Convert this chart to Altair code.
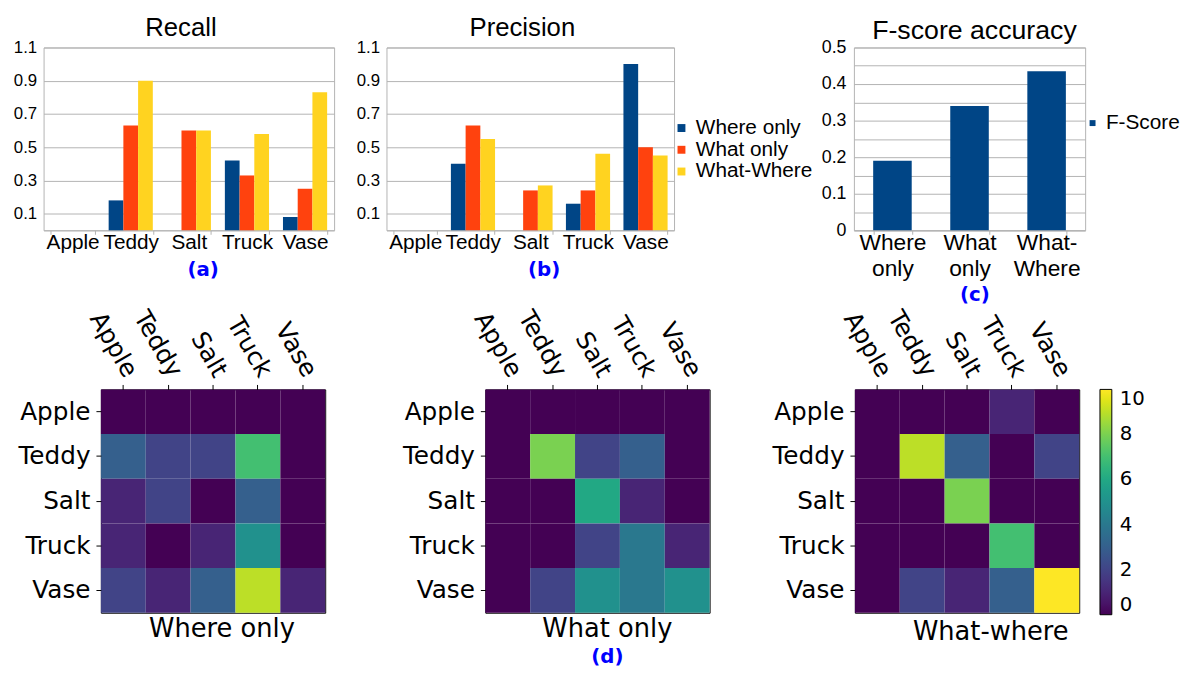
import altair as alt
import pandas as pd

# ---------------- data ----------------
categories = ["Apple", "Teddy", "Salt", "Truck", "Vase"]
methods = ["Where only", "What only", "What-Where"]

recall_where = [0.0, 0.18, 0.0, 0.42, 0.08]
recall_what = [0.0, 0.63, 0.60, 0.33, 0.25]
recall_whatwhere = [0.0, 0.90, 0.60, 0.58, 0.83]

precision_where = [0.0, 0.40, 0.0, 0.16, 1.00]
precision_what = [0.0, 0.63, 0.24, 0.24, 0.50]
precision_whatwhere = [0.0, 0.55, 0.27, 0.46, 0.45]

fscore_methods = ["Where only", "What only", "What-Where"]
fscore_values = [0.19, 0.34, 0.435]

bar_ticks = [0.1, 0.3, 0.5, 0.7, 0.9, 1.1]
fscore_ticks = [0, 0.05, 0.1, 0.15, 0.2, 0.25, 0.3, 0.35, 0.4, 0.45, 0.5]
colorbar_ticks = [0, 2, 4, 6, 8, 10]

conf_where = [
    [0, 0, 0, 0, 0],
    [3, 2, 2, 7, 0],
    [1, 2, 0, 3, 0],
    [1, 0, 1, 5, 0],
    [2, 1, 3, 9, 1],
]
conf_what = [
    [0, 0, 0, 0, 0],
    [0, 8, 2, 3, 0],
    [0, 0, 6, 1, 0],
    [0, 0, 2, 4, 1],
    [0, 2, 5, 4, 5],
]
conf_whatwhere = [
    [0, 0, 0, 1, 0],
    [0, 9, 3, 0, 2],
    [0, 0, 8, 0, 0],
    [0, 0, 0, 7, 0],
    [0, 2, 1, 3, 10],
]

bar_colors = ["#004586", "#ff420e", "#ffd320"]

GRID = "#b3b3b3"
BAR_FONT = "Liberation Sans"
HM_FONT = "DejaVu Sans"
BLUE = "#0000ff"


def long_bars(where, what, whatwhere):
    rows = []
    for i, c in enumerate(categories):
        for m, vals in zip(methods, [where, what, whatwhere]):
            rows.append({"category": c, "method": m, "value": vals[i]})
    return pd.DataFrame(rows)


def bar_panel(df, title, title_dx, sub, sub_x, legend, width, left_gap=0):
    yaxis = dict(values=bar_ticks, format=".1f", labelFont=BAR_FONT,
                 labelFontSize=17, labelColor="black", ticks=False, domain=False,
                 gridColor=GRID, labelPadding=7)
    if left_gap:
        yaxis.update(title=" ", titleFontSize=2, titlePadding=left_gap, titleColor="white")
    else:
        yaxis.update(title=None)
    return alt.Chart(df).mark_bar().encode(
        x=alt.X("category:N", sort=categories,
                scale=alt.Scale(paddingInner=0.24, paddingOuter=0.12),
                axis=alt.Axis(title=sub, titleColor=BLUE, titleFont=HM_FONT, titleFontSize=20,
                              titleFontWeight="bold", titleX=sub_x, titlePadding=8,
                              labelAngle=0, labelFont=BAR_FONT, labelFontSize=21, labelColor="black",
                              labelPadding=-3, labelOverlap=False,
                              tickBand="extent", tickSize=4, tickColor=GRID, domainColor=GRID, grid=False)),
        xOffset=alt.XOffset("method:N", sort=methods),
        y=alt.Y("value:Q", scale=alt.Scale(domain=[0, 1.1], nice=False, zero=True),
                axis=alt.Axis(**yaxis)),
        color=alt.Color("method:N", sort=methods,
                        scale=alt.Scale(domain=methods, range=bar_colors), legend=legend),
    ).properties(
        width=width, height=185,
        title=alt.TitleParams(title, font=BAR_FONT, fontSize=26, fontWeight="normal",
                              dx=title_dx, dy=9, offset=7, color="black", frame="group"),
    )


recall_chart = bar_panel(long_bars(recall_where, recall_what, recall_whatwhere),
                         "Recall", -8, "(a)", 161, None, 294)

prec_legend = alt.Legend(title=" ", titleFontSize=1, titlePadding=70, orient="right", offset=-3,
                         padding=0, symbolType="square", symbolSize=64, symbolStrokeWidth=0,
                         labelFont=BAR_FONT, labelFontSize=21, labelColor="black",
                         rowPadding=0, labelOffset=4)
precision_chart = bar_panel(long_bars(precision_where, precision_what, precision_whatwhere),
                            "Precision", -8, "(b)", 159, prec_legend, 291, left_gap=11)

fdf = pd.DataFrame({"method": fscore_methods, "value": fscore_values,
                    "series": ["F-Score"] * len(fscore_methods)})
fscore_chart = alt.Chart(fdf).mark_bar().encode(
    x=alt.X("method:N", sort=fscore_methods,
            scale=alt.Scale(paddingInner=0.5, paddingOuter=0.25),
            axis=alt.Axis(title="(c)", titleColor=BLUE, titleFont=HM_FONT, titleFontSize=20,
                          titleFontWeight="bold", titleX=122, titlePadding=4,
                          labelAngle=0, labelFont=BAR_FONT, labelFontSize=23, labelColor="black",
                          labelExpr="split(replace(datum.label, '-', '- '), ' ')",
                          labelLineHeight=27, labelPadding=-3, labelOverlap=False,
                          tickBand="extent", tickSize=4, tickColor=GRID, domainColor=GRID, grid=False)),
    y=alt.Y("value:Q", scale=alt.Scale(domain=[0, 0.5], nice=False, zero=True),
            axis=alt.Axis(title=None, values=fscore_ticks,
                          labelExpr="round(datum.value * 20) % 2 == 0 ? format(datum.value, '.1~f') : ''",
                          labelFont=BAR_FONT, labelFontSize=18, labelColor="black", ticks=False,
                          domain=False, gridColor=GRID, labelPadding=8, labelOverlap=False)),
    color=alt.Color("series:N", scale=alt.Scale(domain=["F-Score"], range=["#004586"]),
                    legend=alt.Legend(title=" ", titleFontSize=1, titlePadding=65, orient="right",
                                      offset=-3, padding=0, symbolType="square", symbolSize=36,
                                      symbolStrokeWidth=0, labelFont=BAR_FONT, labelFontSize=21,
                                      labelColor="black", labelOffset=3)),
).properties(
    width=234, height=185,
    title=alt.TitleParams("F-score accuracy", font=BAR_FONT, fontSize=27, fontWeight="normal",
                          dx=5, dy=12, offset=6, color="black", frame="group"),
)


def heat_panel(mat, title, dx, subtitle=None, legend=None, left_gap=0):
    rows = []
    for i, r in enumerate(categories):
        for j, c in enumerate(categories):
            rows.append({"row": r, "col": c, "value": mat[i][j]})
    tp = dict(text=title, orient="bottom", font=HM_FONT, fontSize=26, fontWeight="normal",
              color="black", dx=dx, offset=4, frame="group")
    if subtitle:
        tp.update(subtitle=subtitle, subtitleFont=HM_FONT, subtitleFontSize=20,
                  subtitleFontWeight="bold", subtitleColor=BLUE, subtitlePadding=5)
    yaxis = dict(labelFont=HM_FONT, labelFontSize=25, labelColor="black",
                 tickColor="black", tickSize=5, labelPadding=6, domain=False,
                 grid=False, labelOverlap=False)
    if left_gap:
        yaxis.update(title=" ", titleFontSize=2, titlePadding=left_gap, titleColor="white")
    else:
        yaxis.update(title=None)
    return alt.Chart(pd.DataFrame(rows)).mark_rect().encode(
        x=alt.X("col:N", sort=categories, scale=alt.Scale(paddingInner=0, paddingOuter=0),
                axis=alt.Axis(orient="top", title=None, labelAngle=60, labelAlign="right",
                              labelBaseline="middle", labelFont=HM_FONT, labelFontSize=25,
                              labelColor="black", tickColor="black", tickSize=5, labelPadding=10,
                              labelOffset=8, domain=False, grid=False, labelOverlap=False)),
        y=alt.Y("row:N", sort=categories, scale=alt.Scale(paddingInner=0, paddingOuter=0),
                axis=alt.Axis(**yaxis)),
        color=alt.Color("value:Q", scale=alt.Scale(scheme="viridis", domain=[0, 10]), legend=legend),
    ).properties(
        width=227, height=226,
        title=alt.TitleParams(**tp),
        view=alt.ViewBackground(stroke="black", strokeWidth=1),
    )


cbar = alt.Legend(title=None, orient="right", direction="vertical", gradientLength=228,
                  gradientThickness=12, gradientStrokeColor="black", gradientStrokeWidth=1,
                  labelFont=HM_FONT, labelFontSize=20, labelColor="black", offset=21, padding=0,
                  values=colorbar_ticks, labelOffset=8, labelOverlap=False, labelBaseline="middle")

h1 = heat_panel(conf_where, "Where only", 9)
h2 = heat_panel(conf_what, "What only", 10, subtitle="(d)", left_gap=13)
h3 = heat_panel(conf_whatwhere, "What-where", 24, legend=cbar)

# invisible 1px spacer that lets the heatmap row start further right than the bar row
spacer = alt.Chart(pd.DataFrame({"v": [0]})).mark_point(opacity=0, size=1).encode(
    x=alt.X("v:Q", axis=None), y=alt.Y("v:Q", axis=None)
).properties(width=1, height=1, view=alt.ViewBackground(stroke="transparent"))

top = alt.hconcat(recall_chart, precision_chart, fscore_chart,
                  spacing=7).resolve_scale(color="independent")
heat_row = alt.hconcat(h1, h2, h3, spacing=61).resolve_scale(color="independent")
bottom = alt.hconcat(spacer, heat_row, spacing=-29).resolve_scale(color="independent")

chart = alt.vconcat(top, bottom, spacing=0).resolve_scale(color="independent").properties(
    padding={"left": 4, "top": 2, "right": 0, "bottom": 0},
).configure(background="white").configure_view(stroke=GRID)

chart.save("out.html", embed_options={"renderer": "svg", "actions": False})
